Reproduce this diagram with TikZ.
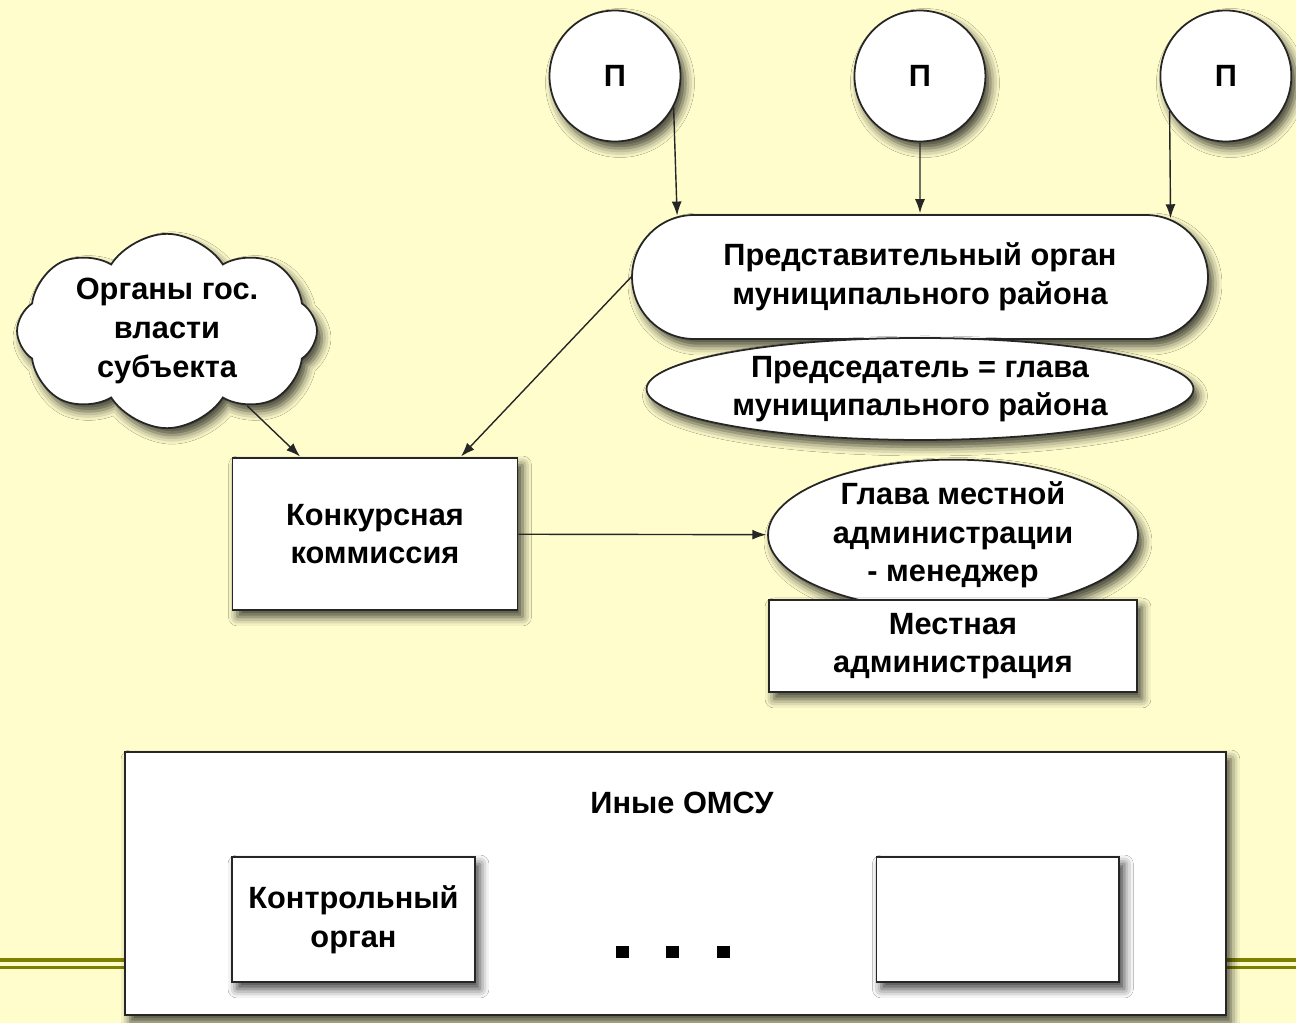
\documentclass[tikz,border=0pt]{standalone}
\usepackage{fontspec}
\setmainfont{Liberation Sans}
\usetikzlibrary{positioning}
\usetikzlibrary{shapes.geometric,shapes.misc,shapes.symbols}
\usetikzlibrary{arrows.meta,shadows.blur}
\definecolor{mybg}{RGB}{255,253,204}
\definecolor{myolive}{RGB}{128,128,0}
\colorlet{myline}{black!85}
\tikzstyle{myshadow}=[blur shadow={shadow xshift=0.1cm, shadow yshift=-0.14cm, shadow blur radius=0.18cm, shadow opacity=75}]
\tikzstyle{mynode}=[align=center, draw=myline, line width=1pt, fill=white, myshadow, inner sep=0pt]
\tikzstyle{deputy}=[mynode, circle, minimum size=2.62cm]
\tikzstyle{council}=[mynode, rounded rectangle, minimum width=11.52cm, minimum height=2.48cm]
\tikzstyle{oval}=[mynode, ellipse]
\tikzstyle{cloudnode}=[mynode, cloud, cloud puffs=8, cloud puff arc=115, aspect=1.7, minimum width=6cm, minimum height=3.5cm]
\tikzstyle{box}=[mynode, rectangle, minimum width=5.7cm, minimum height=3.04cm]
\tikzstyle{dotmark}=[rectangle, fill=black, minimum size=0.26cm, inner sep=0pt]
\tikzstyle{connect arrow}=[-{Latex[length=0.28cm,width=0.2cm]}, line width=0.8pt, myline, shorten >=0.5]

\begin{document}
\begin{tikzpicture}[
    x=0.02cm, y=-0.02cm,
    on grid,
    font=\bfseries\fontsize{17.5}{22}\selectfont]

\fill[mybg] (0,0) rectangle (1296,1023);
\useasboundingbox (0,0) rectangle (1296,1023);

% slide rule
\draw[myolive, line width=0.1cm] (0,960) -- (1296,960);
\draw[myolive, line width=0.05cm] (0,967.5) -- (1296,967.5);

% Deputies
\node[deputy] (p1) at (615,76) {П};
\node[deputy] (p2) [right=6.1cm of p1] {П};
\node[deputy] (p3) [right=6.12cm of p2] {П};

% Council
\node[council] (rep) at (920,277) {Представительный орган\\муниципального района};
\node[oval, minimum width=10.94cm, minimum height=2.04cm] (chair) [below=2.24cm of rep] {Председатель = глава\\муниципального района};

% Competition
\node[cloudnode] (subj) at (167,331) {Органы гос.\\власти\\субъекта};
\node[box] (comm) at (375,534) {Конкурсная\\коммиссия};

% Administration
\node[oval, minimum width=7.4cm, minimum height=2.6cm] (head) at (953,535) {Глава местной\\администрации\\- менеджер};
\node[box, minimum width=7.36cm, minimum height=1.84cm] (admin) [below=2.22cm of head] {Местная\\администрация};

% Other bodies
\node[box, minimum width=22.02cm, minimum height=5.26cm] (others) at (675.5,883.5) {};
\node (othtitle) at (682,803) {Иные ОМСУ};
\node[box, minimum width=4.86cm, minimum height=2.5cm] (ctrl) at (353.5,919.5) {Контрольный\\орган};
\node[box, minimum width=4.86cm, minimum height=2.5cm] (blank) [right=12.89cm of ctrl] {};
\foreach \i/\x in {1/622,2/672,3/723}
    \node[dotmark] (dot\i) at (\x,952) {};

\begin{scope}[connect arrow]
    % deputies to council
    \draw (p1.-28) -- (rep.166.5);
    \draw (p2) -- (rep);
    \draw (p3.212) -- (rep.13);

    % to commission
    \draw (subj.-43) -- (comm.134);
    \draw (rep.west) -- (comm.42);

    % commission to head
    \draw (comm) -- (head);
\end{scope}

\end{tikzpicture}
\end{document}
